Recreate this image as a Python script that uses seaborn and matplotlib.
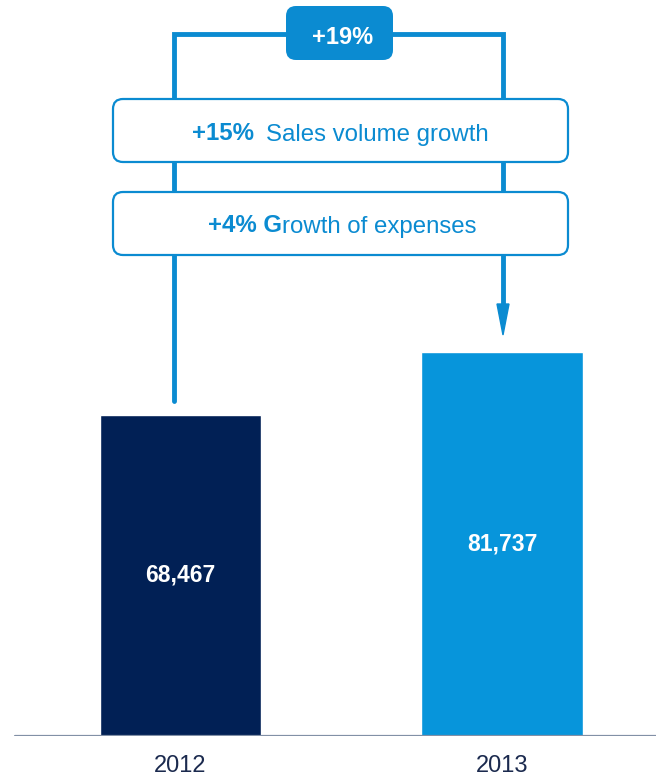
import matplotlib
matplotlib.use("Agg")
import matplotlib.pyplot as plt
import matplotlib.transforms as mtransforms
from matplotlib.patches import FancyBboxPatch, Polygon
import pandas as pd
import seaborn as sns

# data
years = ["2012", "2013"]
values = [68467, 81737]
bar_colors = ["#012055", "#0795db"]
total_growth = "+19%"
volume_growth = "+15%"
expense_growth = "+4%"

W, H = 656, 779
BLUE = "#0b8bd1"
NAVY_TXT = "#1b2a4e"

sns.set_theme(style="white")
plt.rcParams["font.family"] = ["Liberation Sans", "DejaVu Sans"]

df = pd.DataFrame({"year": years, "value": values})

fig = plt.figure(figsize=(W / 100, H / 100), dpi=100)
ax = fig.add_axes([0, 43 / H, 1, 736 / H])

sns.barplot(data=df, x="year", y="value", hue="year", palette=bar_colors,
            width=0.503, legend=False, ax=ax, saturation=1)

ax.set_xlim(-0.561, 1.479)
ax.set_ylim(0, max(values) * 1.918)
sns.despine(ax=ax, left=True, bottom=True, top=True, right=True)
ax.set_yticks([])
ax.set_xlabel("")
ax.set_ylabel("")
ax.tick_params(axis="x", length=0, pad=14, labelsize=17, labelcolor=NAVY_TXT)
ax.axhline(0, xmin=15 / W, xmax=1, color="#8290a6", lw=1.6, zorder=5)

for cont in ax.containers:
    ax.bar_label(cont, labels=[f"{v:,.0f}" for v in cont.datavalues],
                 label_type="center", color="white", fontsize=16.5,
                 fontweight="bold")

# pixel coordinates measured from the top-left corner
px = mtransforms.Affine2D().scale(1 / W, -1 / H).translate(0, 1) + fig.transFigure

# bracket from 2012 to 2013
ax.plot([174, 174, 503, 503], [401, 34, 34, 306], transform=px,
        color=BLUE, lw=3.5, solid_joinstyle="miter", clip_on=False, zorder=2)
ax.add_patch(Polygon([[497, 304], [509, 304], [503, 335]], closed=True,
                     transform=px, color=BLUE, clip_on=False, zorder=2))

# +19% badge
ax.add_patch(FancyBboxPatch((286, 6), 107, 54, boxstyle="round,pad=0,rounding_size=10",
                            transform=px, fc=BLUE, ec="none", clip_on=False, zorder=3))
ax.text(343, 37, total_growth, transform=px, ha="center", va="center",
        color="white", fontsize=17, fontweight="bold", zorder=4)

# driver boxes
for top in (99, 192):
    ax.add_patch(FancyBboxPatch((113, top), 455, 63, boxstyle="round,pad=0,rounding_size=10",
                                transform=px, fc="white", ec=BLUE, lw=1.6,
                                clip_on=False, zorder=3))

t1 = ax.text(192, 134, volume_growth, transform=px, ha="left", va="center",
             color=BLUE, fontsize=17.3, fontweight="bold", zorder=4)
ax.annotate("Sales volume growth", xy=(1, 0), xycoords=t1, xytext=(9, 0),
            textcoords="offset points", ha="left", va="bottom",
            color=BLUE, fontsize=17.3, zorder=4)

t2 = ax.text(208, 226, expense_growth + " G", transform=px, ha="left", va="center",
             color=BLUE, fontsize=17.3, fontweight="bold", zorder=4)
ax.annotate("rowth of expenses", xy=(1, 0), xycoords=t2, xytext=(0, 0),
            textcoords="offset points", ha="left", va="bottom",
            color=BLUE, fontsize=17.3, zorder=4)

fig.savefig("out.png", dpi=100)
